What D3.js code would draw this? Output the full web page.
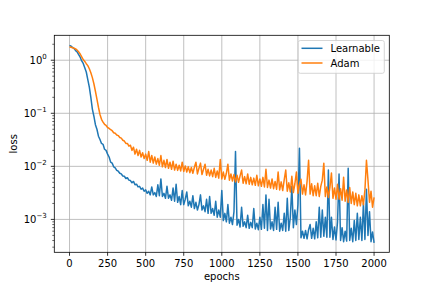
<!DOCTYPE html>
<html>
<head>
<meta charset="utf-8">
<script src="https://cdn.jsdelivr.net/npm/d3@7"></script>
<style>
  body { margin: 0; background: #fff; }
  text { font-family: "DejaVu Sans", sans-serif; fill: #000; }
</style>
</head>
<body>
<svg id="chart" width="432" height="288"></svg>
<script>
const epochs = d3.range(0, 2001, 10);

const learnable = [
  1.9, 1.84, 1.74, 1.66, 1.52, 1.44, 1.28, 1.14, 0.97, 0.87,
  0.72, 0.6, 0.43, 0.31, 0.2, 0.12, 0.088, 0.061, 0.05, 0.037,
  0.032, 0.027, 0.026, 0.021, 0.02, 0.017, 0.015, 0.012, 0.0115, 0.0098,
  0.0094, 0.0084, 0.0081, 0.0074, 0.0072, 0.0066, 0.0065, 0.0059, 0.0061, 0.0055,
  0.0054, 0.0049, 0.0052, 0.0045, 0.0046, 0.0041, 0.0042, 0.0037, 0.0039, 0.0034,
  0.0036, 0.0031, 0.0034, 0.0029, 0.0041, 0.0029, 0.0032, 0.0027, 0.0045, 0.0028,
  0.0058, 0.0027, 0.0031, 0.0025, 0.0042, 0.0025, 0.0029, 0.0023, 0.0039, 0.0022,
  0.0046, 0.0021, 0.0027, 0.0019, 0.0035, 0.0019, 0.0024, 0.0033, 0.0018, 0.0022,
  0.0017, 0.0028, 0.0016, 0.0021, 0.0015, 0.0019, 0.0029, 0.0015, 0.0018, 0.0014,
  0.0024, 0.0013, 0.0027, 0.0013, 0.0016, 0.0012, 0.0022, 0.0011, 0.0015, 0.0011,
  0.0035, 0.00095, 0.0013, 0.0009, 0.0019, 0.00085, 0.0011, 0.0008, 0.0014, 0.019,
  0.00078, 0.001, 0.00072, 0.0017, 0.00074, 0.0009, 0.0007, 0.0012, 0.00068, 0.00088,
  0.0007, 0.0016, 0.00066, 0.00085, 0.00064, 0.0011, 0.00065, 0.0019, 0.00068, 0.0029,
  0.00062, 0.0024, 0.00066, 0.0009, 0.00062, 0.0017, 0.00065, 0.0021, 0.0006, 0.00085,
  0.00062, 0.0013, 0.0006, 0.0025, 0.00062, 0.0011, 0.0042, 0.0007, 0.0015, 0.0008,
  0.0019, 0.022, 0.00045, 0.0006, 0.00044, 0.00062, 0.00043, 0.00064, 0.0008, 0.00044,
  0.00068, 0.00043, 0.0009, 0.00045, 0.0017, 0.00046, 0.0015, 0.00048, 0.0011, 0.00046,
  0.0085, 0.00046, 0.0011, 0.00042, 0.00072, 0.00041, 0.0009, 0.0072, 0.0004, 0.0007,
  0.00038, 0.0006, 0.00039, 0.0092, 0.0004, 0.00068, 0.00038, 0.00095, 0.0004, 0.0013,
  0.00042, 0.0011, 0.0004, 0.002, 0.00042, 0.0037, 0.0005, 0.0014, 0.00038, 0.00058,
  0.00036
];

const adam = [
  1.8, 1.76, 1.72, 1.68, 1.63, 1.55, 1.44, 1.31, 1.16, 1.03,
  0.95, 0.86, 0.79, 0.69, 0.58, 0.47, 0.36, 0.26, 0.185, 0.13,
  0.095, 0.077, 0.068, 0.062, 0.059, 0.054, 0.052, 0.049, 0.047, 0.043,
  0.042, 0.039, 0.038, 0.035, 0.034, 0.031, 0.030, 0.027, 0.027, 0.024,
  0.025, 0.02, 0.023, 0.017, 0.021, 0.016, 0.02, 0.015, 0.018, 0.014,
  0.017, 0.013, 0.019, 0.012, 0.016, 0.0115, 0.015, 0.011, 0.014, 0.0105,
  0.016, 0.0098, 0.013, 0.0095, 0.0135, 0.0092, 0.012, 0.0088, 0.0125, 0.0085,
  0.011, 0.0084, 0.0105, 0.0082, 0.012, 0.008, 0.0102, 0.0078, 0.0098, 0.0076,
  0.0095, 0.0074, 0.0096, 0.012, 0.0072, 0.0092, 0.0115, 0.007, 0.0088, 0.011,
  0.0068, 0.0088, 0.0066, 0.0085, 0.0064, 0.0092, 0.0062, 0.0082, 0.006, 0.0135,
  0.0058, 0.0078, 0.0057, 0.0074, 0.011, 0.0055, 0.0072, 0.0053, 0.007, 0.0051,
  0.0068, 0.005, 0.0066, 0.0085, 0.0048, 0.0064, 0.0047, 0.0072, 0.0046, 0.0062,
  0.0045, 0.006, 0.0044, 0.0068, 0.0043, 0.0058, 0.0042, 0.0062, 0.0041, 0.0088,
  0.004, 0.0055, 0.0039, 0.0058, 0.0038, 0.0052, 0.0037, 0.0078, 0.0036, 0.0051,
  0.0035, 0.0056, 0.0085, 0.0034, 0.0049, 0.0033, 0.0065, 0.0032, 0.0047, 0.0078,
  0.0031, 0.0046, 0.0057, 0.003, 0.0045, 0.0029, 0.0052, 0.013, 0.003, 0.0047,
  0.0028, 0.0043, 0.0028, 0.0048, 0.0027, 0.0042, 0.0055, 0.0115, 0.0027, 0.0041,
  0.0026, 0.004, 0.0075, 0.0025, 0.0039, 0.0024, 0.0046, 0.0024, 0.0038, 0.0023,
  0.0062, 0.0022, 0.0036, 0.0021, 0.004, 0.002, 0.0033, 0.0019, 0.0031, 0.0018,
  0.0029, 0.0018, 0.0028, 0.0019, 0.0036, 0.013, 0.0055, 0.0021, 0.0034, 0.0017,
  0.0026
];

const seriesNames = ['Learnable', 'Adam'];
const seriesColors = ['#1f77b4', '#ff7f0e'];
const xTicks = [0, 250, 500, 750, 1000, 1250, 1500, 1750, 2000];
const yTicks = [1e-3, 1e-2, 1e-1, 1];
const yTickExps = ['\u22123', '\u22122', '\u22121', '0'];

const margin = { top: 35.3, right: 42.7, bottom: 35.7, left: 54.3 };
const W = 432, H = 288;
const svg = d3.select('#chart');

const x = d3.scaleLinear().domain([-100, 2100]).range([margin.left, W - margin.right]);
const y = d3.scaleLog().domain([2.4e-4, 2.95]).range([H - margin.bottom, margin.top]);

svg.append('defs').append('clipPath').attr('id', 'clip')
  .append('rect')
  .attr('x', margin.left).attr('y', margin.top)
  .attr('width', W - margin.left - margin.right)
  .attr('height', H - margin.top - margin.bottom);

// grid
const grid = svg.append('g').attr('stroke', '#b0b0b0').attr('stroke-width', 0.8);
grid.selectAll('.gx').data(xTicks).enter().append('line')
  .attr('x1', d => x(d)).attr('x2', d => x(d))
  .attr('y1', margin.top).attr('y2', H - margin.bottom);
grid.selectAll('.gy').data(yTicks).enter().append('line')
  .attr('x1', margin.left).attr('x2', W - margin.right)
  .attr('y1', d => y(d)).attr('y2', d => y(d));

// lines
const line = d3.line().x((d, i) => x(epochs[i])).y(d => y(d));
const plot = svg.append('g').attr('clip-path', 'url(#clip)');
[learnable, adam].forEach((vals, k) => {
  plot.append('path')
    .datum(vals)
    .attr('fill', 'none')
    .attr('stroke', seriesColors[k])
    .attr('stroke-width', 1.5)
    .attr('stroke-linejoin', 'round')
    .attr('d', line);
});

// x axis
const xAxis = svg.append('g');
xAxis.selectAll('line').data(xTicks).enter().append('line')
  .attr('x1', d => x(d)).attr('x2', d => x(d))
  .attr('y1', H - margin.bottom).attr('y2', H - margin.bottom + 3.5)
  .attr('stroke', '#000').attr('stroke-width', 0.8);
xAxis.selectAll('text').data(xTicks).enter().append('text')
  .attr('x', d => x(d)).attr('y', H - margin.bottom + 14.4)
  .attr('text-anchor', 'middle').attr('font-size', 10)
  .text(d => d);

// y axis: major + minor ticks
const minor = [];
for (let k = -4; k <= 0; k++) {
  for (let m = 2; m <= 9; m++) {
    const v = m * Math.pow(10, k);
    if (v >= y.domain()[0] && v <= y.domain()[1]) minor.push(v);
  }
}
const yAxis = svg.append('g');
yAxis.selectAll('.minor').data(minor).enter().append('line')
  .attr('x1', margin.left - 2).attr('x2', margin.left)
  .attr('y1', d => y(d)).attr('y2', d => y(d))
  .attr('stroke', '#000').attr('stroke-width', 0.6);
yAxis.selectAll('.major').data(yTicks).enter().append('line')
  .attr('x1', margin.left - 3.5).attr('x2', margin.left)
  .attr('y1', d => y(d)).attr('y2', d => y(d))
  .attr('stroke', '#000').attr('stroke-width', 0.8);
const yLabels = yAxis.selectAll('.lab').data(yTicks).enter().append('text')
  .attr('x', margin.left - 7.5).attr('y', d => y(d) + 3.4)
  .attr('text-anchor', 'end').attr('font-size', 10);
yLabels.append('tspan').text('10');
yLabels.append('tspan').attr('dy', -4.7).attr('font-size', 7).text((d, i) => yTickExps[i]);

// spines
svg.append('rect')
  .attr('x', margin.left).attr('y', margin.top)
  .attr('width', W - margin.left - margin.right)
  .attr('height', H - margin.top - margin.bottom)
  .attr('fill', 'none').attr('stroke', '#000').attr('stroke-width', 0.8);

// axis labels
svg.append('text')
  .attr('x', (margin.left + W - margin.right) / 2).attr('y', 279.5)
  .attr('text-anchor', 'middle').attr('font-size', 10).text('epochs');
svg.append('text')
  .attr('transform', `translate(16.5, ${(margin.top + H - margin.bottom) / 2}) rotate(-90)`)
  .attr('text-anchor', 'middle').attr('font-size', 10).text('loss');

// legend
const lg = svg.append('g');
lg.append('rect')
  .attr('x', 298.3).attr('y', 40.5).attr('width', 86).attr('height', 32.8)
  .attr('rx', 2).attr('fill', '#fff').attr('fill-opacity', 0.8)
  .attr('stroke', '#cccccc').attr('stroke-width', 0.8);
const items = lg.selectAll('.item').data(seriesNames).enter().append('g')
  .attr('transform', (d, i) => `translate(0, ${48.3 + i * 14.7})`);
items.append('line')
  .attr('x1', 301.5).attr('x2', 322.5).attr('y1', 0).attr('y2', 0)
  .attr('stroke', (d, i) => seriesColors[i]).attr('stroke-width', 1.5);
items.append('text')
  .attr('x', 330.5).attr('y', 3.6).attr('font-size', 10).text(d => d);
</script>
</body>
</html>
